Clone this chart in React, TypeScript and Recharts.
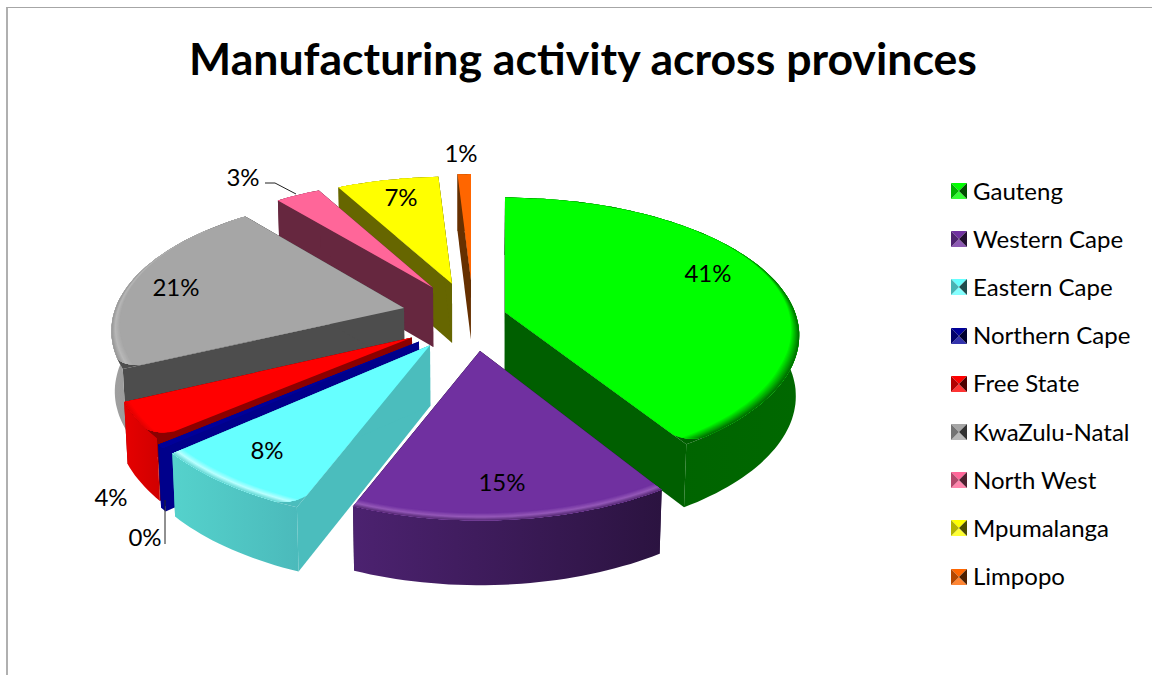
import React from "react";
import { PieChart, Pie, Legend } from "recharts";

const PROVINCES = [
  "Gauteng",
  "Western Cape",
  "Eastern Cape",
  "Northern Cape",
  "Free State",
  "KwaZulu-Natal",
  "North West",
  "Mpumalanga",
  "Limpopo",
];
const SHARES = [41, 15, 7.6, 0.4, 4, 21.3, 3, 6.8, 0.9];
const TOP_COLORS = [
  "#00ff00",
  "#7030a0",
  "#66ffff",
  "#000099",
  "#ff0000",
  "#a6a6a6",
  "#ff6699",
  "#ffff00",
  "#ff6600",
];

const rows = PROVINCES.map((name, i) => ({
  name,
  value: SHARES[i],
  fill: TOP_COLORS[i],
}));

// back slices are painted first so the front ones can cover their walls
const DRAW_ORDER = [
  "Gauteng",
  "Limpopo",
  "Mpumalanga",
  "North West",
  "KwaZulu-Natal",
  "Free State",
  "Northern Cape",
  "Eastern Cape",
  "Western Cape",
];

type Look = {
  shift: [number, number];
  scale?: number;
  cut: string;
  wall: [string, string];
  rimEdge: string;
  rimGlow: string;
};

const LOOKS: Record<string, Look> = {
  Gauteng: { shift: [47, 6], cut: "#005f00", wall: ["#005f00", "#006800"], rimEdge: "#005f00", rimGlow: "#00b000" },
  "Western Cape": { shift: [22, -74], scale: 0.955, cut: "#2e1540", wall: ["#4c2270", "#2b1340"], rimEdge: "#4a2168", rimGlow: "#9458b8" },
  "Eastern Cape": { shift: [-28, -63], cut: "#4bbdbd", wall: ["#55d2cc", "#4bbabb"], rimEdge: "#55d0cc", rimGlow: "#b8ffff" },
  "Northern Cape": { shift: [-39, -55], cut: "#00008b", wall: ["#00008b", "#00008b"], rimEdge: "#000099", rimGlow: "#000099" },
  "Free State": { shift: [-46, -47], scale: 0.985, cut: "#8b0000", wall: ["#e60000", "#d00000"], rimEdge: "#e00000", rimGlow: "#ff0000" },
  "KwaZulu-Natal": { shift: [-54, 15], cut: "#4d4d4d", wall: ["#a0a0a0", "#808080"], rimEdge: "#909090", rimGlow: "#b8b8b8" },
  "North West": { shift: [-25, 61], cut: "#66273f", wall: ["#66273f", "#66273f"], rimEdge: "#ff6699", rimGlow: "#ff6699" },
  Mpumalanga: { shift: [-6, 70], cut: "#666600", wall: ["#666600", "#666600"], rimEdge: "#ffff00", rimGlow: "#ffff00" },
  Limpopo: { shift: [13, 78], cut: "#663000", wall: ["#663000", "#663000"], rimEdge: "#ff6600", rimGlow: "#ff6600" },
};

const LABEL_SPOTS: Record<string, [number, number]> = {
  Gauteng: [708, 272],
  "Western Cape": [502, 481],
  "Eastern Cape": [267, 449],
  "Northern Cape": [145, 536],
  "Free State": [111, 496],
  "KwaZulu-Natal": [176, 286],
  "North West": [243, 176],
  Mpumalanga: [401, 196],
  Limpopo: [461, 152],
};

const FONT = "Lato, 'Open Sans', sans-serif";
const CX = 458;
const CY = 315;
const RADIUS = 291;
const FLATTEN = 0.464;
const PERSPECTIVE = 0.17;
const DEPTH = 60;
const RIM = 0.04;
const CORNER_DEG = 4;
const CORNER_EDGE = 0.94;

const mix = (a: string, b: string, t: number) => {
  const ch = (c: string, i: number) => parseInt(c.slice(1 + i * 2, 3 + i * 2), 16);
  const out = [0, 1, 2].map((i) => Math.round(ch(a, i) * (1 - t) + ch(b, i) * t));
  return `rgb(${out.join(",")})`;
};

const sinDeg = (deg: number) => Math.sin((deg * Math.PI) / 180);

function rimWidth(deg: number) {
  const k = 0.6 - sinDeg(deg);
  return RIM * Math.min(1, Math.max(0.05, k));
}

function SliceShape(props: any) {
  const { name, startAngle, endAngle, cx, cy, outerRadius, fill } = props;
  const look = LOOKS[name];
  const [sx, sy] = look.shift;
  const radius = outerRadius * (look.scale ?? 1);

  // disc coordinates to screen, with the depth foreshortening
  const place = (deg: number, frac: number, low = false) => {
    const a = (deg * Math.PI) / 180;
    const u = Math.cos(a) * radius * frac;
    const v = sy + Math.sin(a) * radius * frac;
    const s = 1 / (1 + (PERSPECTIVE * v) / outerRadius);
    const x = cx + sx + u * s;
    const y = cy - v * FLATTEN * s;
    if (!low) return [x, y];
    return [cx + (x - cx) * 0.99, y + DEPTH * (1 + (s - 1) * 0.3)];
  };

  const sweep: number[] = [];
  const count = Math.max(2, Math.ceil(Math.abs(startAngle - endAngle) / 1.5));
  for (let i = 0; i <= count; i++) sweep.push(startAngle + ((endAngle - startAngle) * i) / count);

  const pt = (p: number[]) => `${p[0].toFixed(1)},${p[1].toFixed(1)}`;
  const poly = (pts: number[][]) => "M" + pts.map(pt).join("L") + "Z";

  const apex = place(0, 0);
  const apexLow = place(0, 0, true);
  const arc = sweep.map((d) => place(d, 1));
  const arcLow = sweep.map((d) => place(d, 1, true));
  const gradId = `wall-${name.replace(/\W/g, "")}`;
  const clipId = `top-${name.replace(/\W/g, "")}`;

  // the bevel rounds the top off where a visible cut wall meets the rim
  const wide = Math.abs(startAngle - endAngle) > 6;
  const roundStart = wide && sinDeg(startAngle) < 0 && sinDeg(startAngle + 90) < 0;
  const roundEnd = wide && sinDeg(endAngle) < 0 && sinDeg(endAngle - 90) < 0;
  const inner = sweep.filter(
    (d) =>
      (!roundStart || d <= startAngle - CORNER_DEG) && (!roundEnd || d >= endAngle + CORNER_DEG),
  );
  let top = `M${pt(apex)}`;
  top += roundStart
    ? `L${pt(place(startAngle, CORNER_EDGE))}Q${pt(place(startAngle - 0.8, 0.985))} ${pt(place(startAngle - CORNER_DEG, 1))}`
    : `L${pt(arc[0])}`;
  inner.forEach((d) => {
    top += `L${pt(place(d, 1))}`;
  });
  top += roundEnd
    ? `L${pt(place(endAngle + CORNER_DEG, 1))}Q${pt(place(endAngle + 0.8, 0.985))} ${pt(place(endAngle, CORNER_EDGE))}`
    : `L${pt(arc[arc.length - 1])}`;
  top += "Z";

  const bands = [];
  const steps = 10;
  for (let i = steps; i >= 1; i--) {
    const t = i / steps;
    const ring = sweep.map((d) => place(d, 1 - rimWidth(d) * t));
    const color =
      t > 0.5 ? mix(look.rimGlow, fill, (t - 0.5) * 2) : mix(look.rimEdge, look.rimGlow, t * 2);
    bands.push(<path key={i} d={poly([...arc, ...ring.reverse()])} fill={color} />);
  }

  return (
    <g>
      <defs>
        <linearGradient id={gradId} x1="0" x2="1" y1="0" y2="0">
          <stop offset="0" stopColor={look.wall[0]} />
          <stop offset="1" stopColor={look.wall[1]} />
        </linearGradient>
        <clipPath id={clipId}>
          <path d={top} />
        </clipPath>
      </defs>
      <path d={poly([apex, arc[0], arcLow[0], apexLow])} fill={look.cut} />
      <path d={poly([apex, arc[arc.length - 1], arcLow[arcLow.length - 1], apexLow])} fill={look.cut} />
      <path d={poly([...arc, ...[...arcLow].reverse()])} fill={`url(#${gradId})`} />
      <path d={poly([apex, ...arc])} fill={look.cut} />
      <path d={top} fill={fill} />
      <g clipPath={`url(#${clipId})`}>{bands}</g>
    </g>
  );
}

function SliceLabel(props: any) {
  const { name, percent } = props;
  const [x, y] = LABEL_SPOTS[name];
  return (
    <g>
      {name === "North West" && (
        <polyline points="265,183 275,183 296,194" fill="none" stroke="#222" strokeWidth={1} />
      )}
      {name === "Northern Cape" && (
        <line x1={165} y1={500} x2={165} y2={544} stroke="#222" strokeWidth={1} />
      )}
      <text x={x} y={y} textAnchor="middle" dominantBaseline="central" fontFamily={FONT} fontSize={24} fill="#000">
        {`${Math.round(percent * 100)}%`}
      </text>
    </g>
  );
}

// every Pie layer reports all of its rows, so the list is keyed off the province names
function KeyList({ payload }: any) {
  const entries = PROVINCES.map((name) => (payload ?? []).find((e: any) => e.value === name)).filter(Boolean);
  return (
    <div>
      {entries.map((entry: any) => (
        <div key={entry.value} style={{ display: "flex", alignItems: "center", height: 48.2 }}>
          <svg width={16} height={16} style={{ marginRight: 6 }}>
            <polygon points="0,0 16,0 8,8" fill={entry.color} />
            <polygon points="0,16 16,16 8,8" fill={mix(entry.color, "#ffffff", 0.2)} />
            <polygon points="0,0 0,16 8,8" fill={mix(entry.color, "#000000", 0.3)} />
            <polygon points="16,0 16,16 8,8" fill={mix(entry.color, "#000000", 0.7)} />
          </svg>
          <span style={{ fontFamily: FONT, fontSize: 24, color: "#000", whiteSpace: "nowrap", position: "relative", top: -1 }}>
            {entry.value}
          </span>
        </div>
      ))}
    </div>
  );
}

export default function App() {
  return (
    <div style={{ position: "absolute", left: 0, top: 0, width: 1152, height: 675, background: "#fff", overflow: "hidden" }}>
      <div style={{ position: "absolute", left: 6, top: 7, width: 1146, height: 668, borderLeft: "2px solid #b0b0b0", borderTop: "1px solid #a6a6a6" }} />
      <div style={{ position: "absolute", left: 0, top: 29, width: 1166, textAlign: "center", fontFamily: FONT, fontWeight: 700, fontSize: 44.6, lineHeight: "58px", color: "#000" }}>
        Manufacturing activity across provinces
      </div>
      <div style={{ position: "absolute", left: 0, top: 0 }}>
        <PieChart width={1152} height={675} margin={{ top: 0, right: 0, bottom: 0, left: 0 }}>
          {DRAW_ORDER.map((province, i) => (
            <Pie
              key={province}
              data={rows}
              dataKey="value"
              nameKey="name"
              cx={CX}
              cy={CY}
              outerRadius={RADIUS}
              startAngle={90}
              endAngle={-270}
              stroke="none"
              legendType={i === 0 ? "rect" : "none"}
              isAnimationActive={false}
              shape={(p: any) => (p.name === province ? <SliceShape {...p} /> : <g />)}
            />
          ))}
          <Pie
            data={rows}
            dataKey="value"
            nameKey="name"
            cx={CX}
            cy={CY}
            outerRadius={RADIUS}
            startAngle={90}
            endAngle={-270}
            legendType="none"
            isAnimationActive={false}
            shape={() => <g />}
            label={(p: any) => <SliceLabel {...p} />}
            labelLine={false}
          />
          <Legend
            layout="vertical"
            content={<KeyList />}
            wrapperStyle={{ left: 951, top: 167, width: 195, bottom: "auto", right: "auto" }}
          />
        </PieChart>
      </div>
    </div>
  );
}
